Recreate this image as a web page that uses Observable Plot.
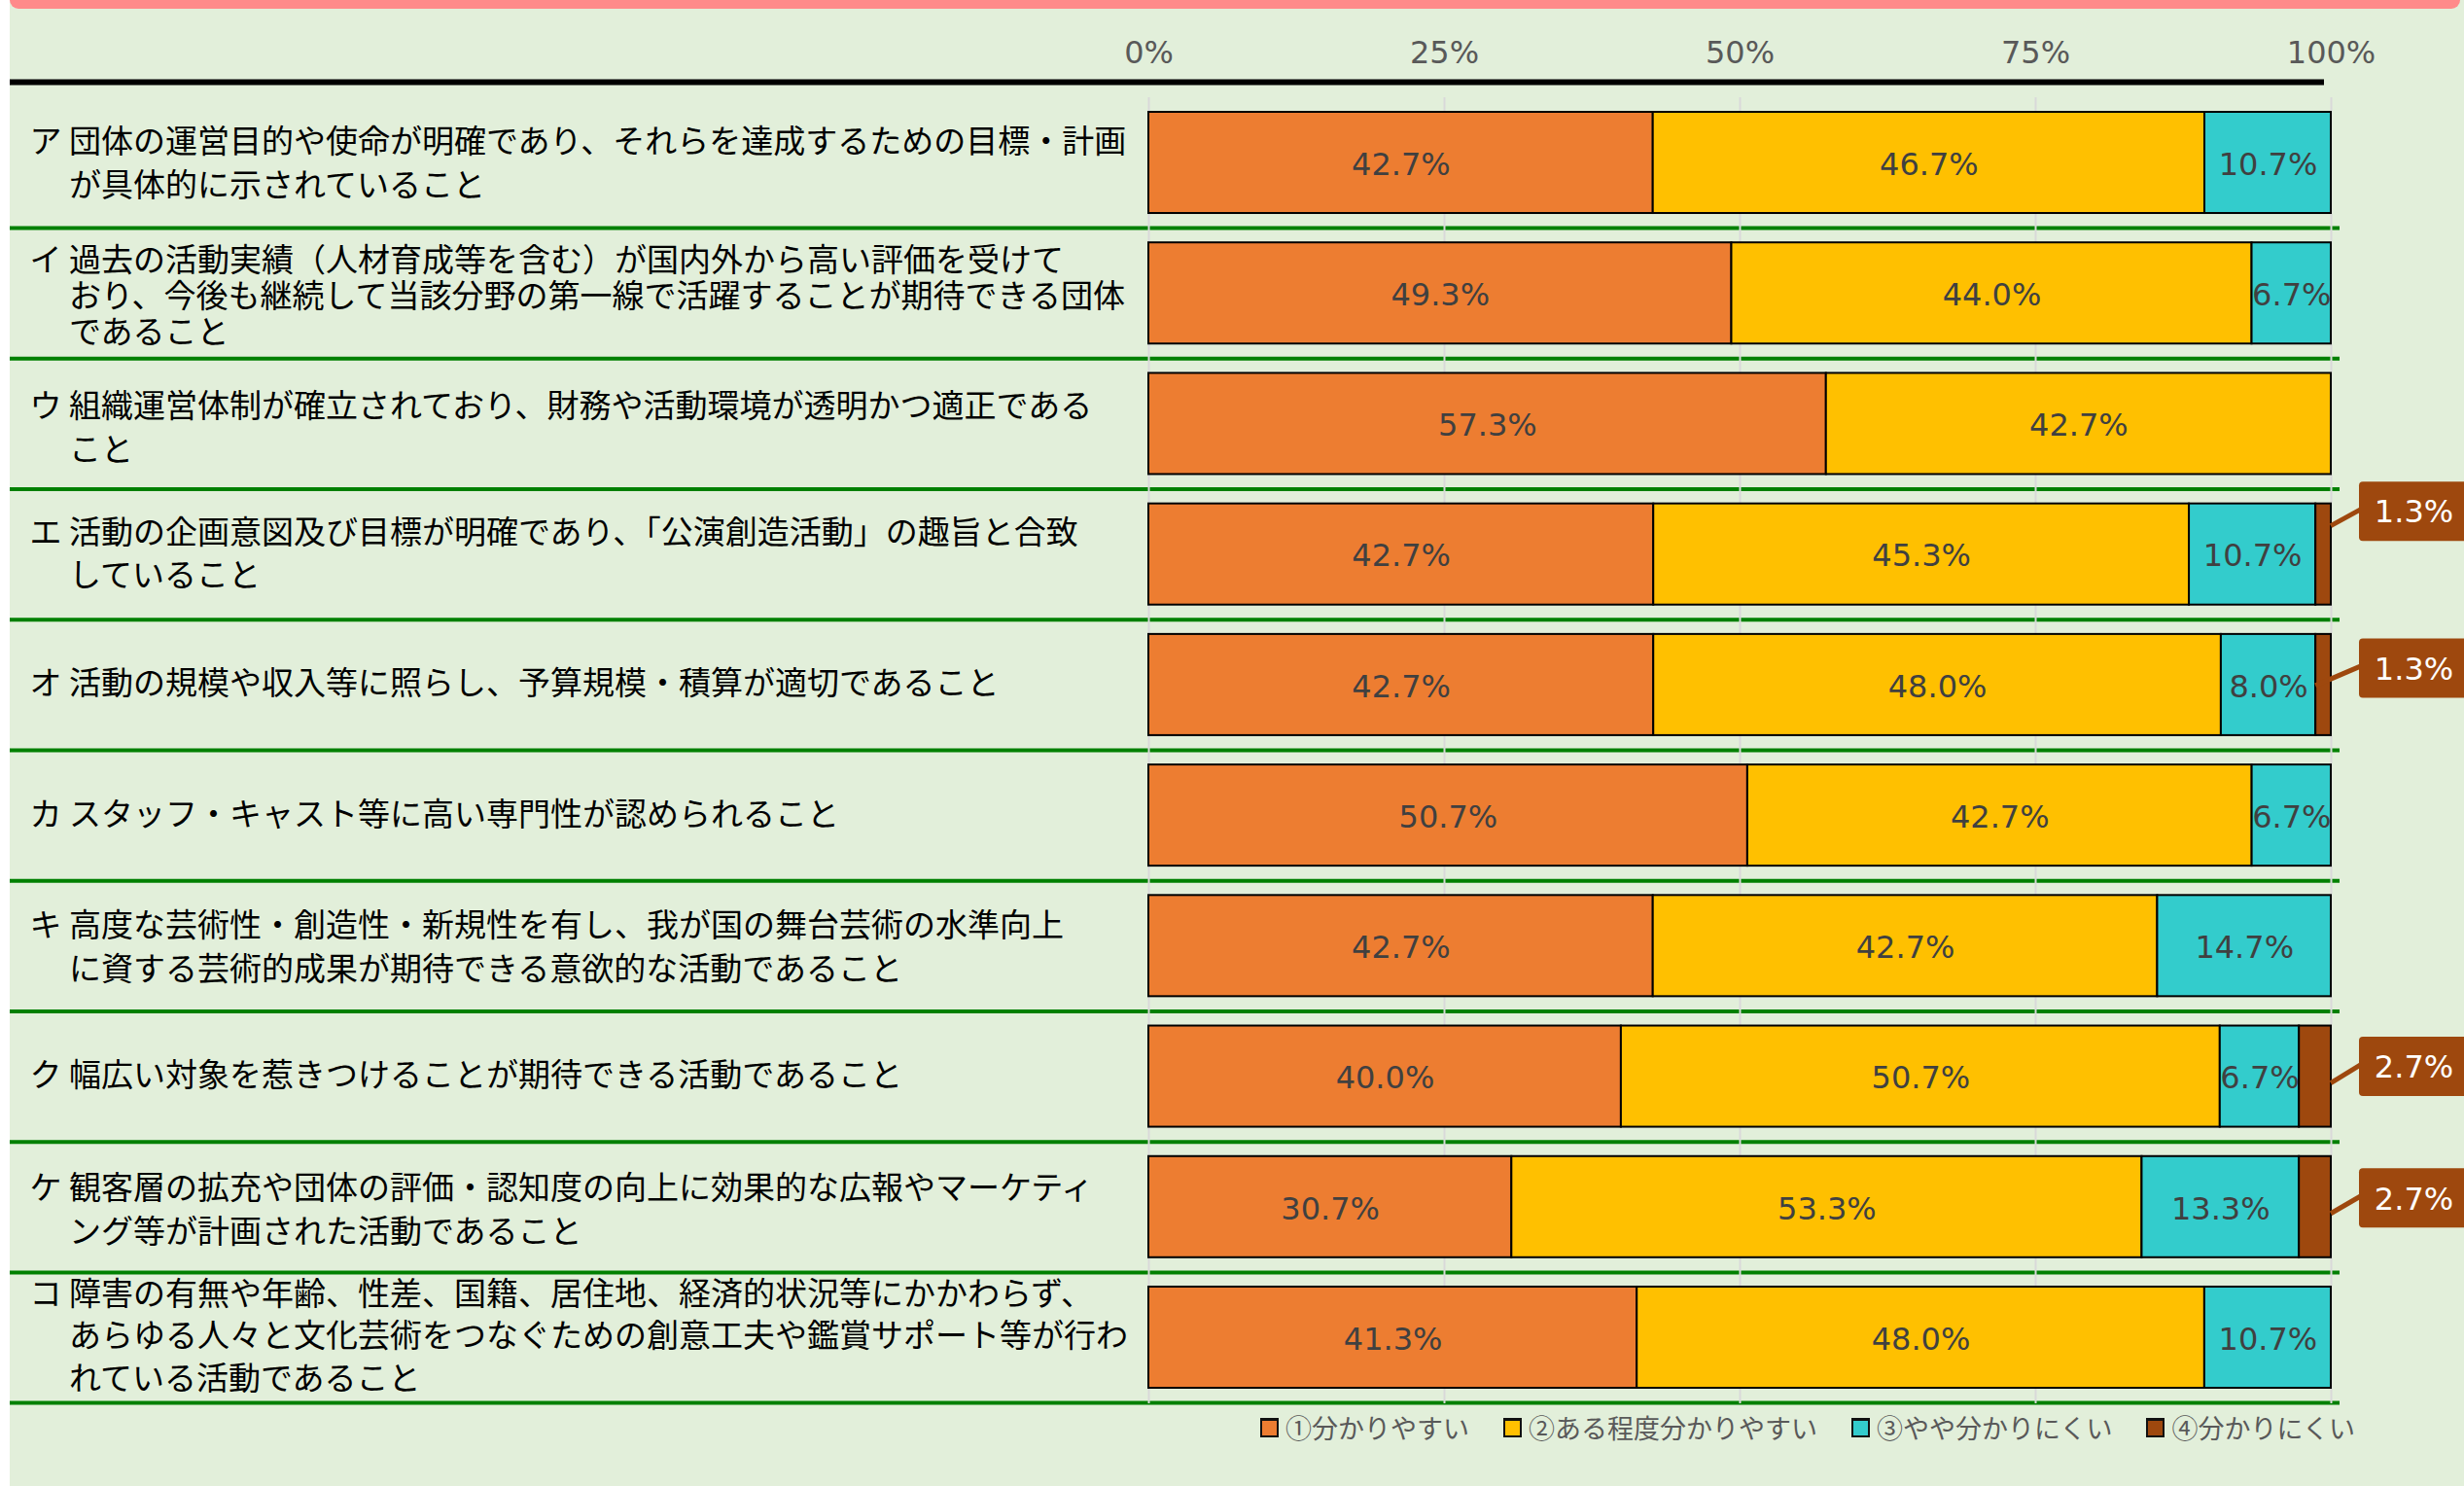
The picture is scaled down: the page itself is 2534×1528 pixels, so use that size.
<!DOCTYPE html>
<html><head><meta charset="utf-8">
<script src="https://cdn.jsdelivr.net/npm/d3@7"></script>
<script src="https://cdn.jsdelivr.net/npm/@observablehq/plot@0.6"></script>
<style>
html,body{margin:0;padding:0;background:#fff;}
#page{position:relative;width:2534px;height:1528px;overflow:hidden;}
#bg{position:absolute;left:10px;top:0;right:0;bottom:0;background:#E2EFDA;}
#band{position:absolute;left:10px;top:0;width:2520px;height:9px;background:#FF8A8A;border-radius:0 0 9px 9px;}
#chart{position:relative;}
#legend{position:relative;display:flex;align-items:center;padding-left:1296px;margin-top:4px;font-family:"Noto Sans CJK JP",sans-serif;font-size:27px;line-height:27px;color:#595959;}
.item{display:flex;align-items:center;margin-right:35px;}
.sw{width:15px;height:15px;border:2px solid #111;border-top-width:3px;margin-right:7px;}
</style></head>
<body><div id="page"><div id="bg"></div><div id="band"></div><div id="chart"></div><div id="legend"></div></div>
<script>
// ---- data ----
const categories = ["ア","イ","ウ","エ","オ","カ","キ","ク","ケ","コ"];
const labelLines = [
  ["ア 団体の運営目的や使命が明確であり、それらを達成するための目標・計画", "が具体的に示されていること"],
  ["イ 過去の活動実績（人材育成等を含む）が国内外から高い評価を受けて", "おり、今後も継続して当該分野の第一線で活躍することが期待できる団体", "であること"],
  ["ウ 組織運営体制が確立されており、財務や活動環境が透明かつ適正である", "こと"],
  ["エ 活動の企画意図及び目標が明確であり、「公演創造活動」の趣旨と合致", "していること"],
  ["オ 活動の規模や収入等に照らし、予算規模・積算が適切であること"],
  ["カ スタッフ・キャスト等に高い専門性が認められること"],
  ["キ 高度な芸術性・創造性・新規性を有し、我が国の舞台芸術の水準向上", "に資する芸術的成果が期待できる意欲的な活動であること"],
  ["ク 幅広い対象を惹きつけることが期待できる活動であること"],
  ["ケ 観客層の拡充や団体の評価・認知度の向上に効果的な広報やマーケティ", "ング等が計画された活動であること"],
  ["コ 障害の有無や年齢、性差、国籍、居住地、経済的状況等にかかわらず、", "あらゆる人々と文化芸術をつなぐための創意工夫や鑑賞サポート等が行わ", "れている活動であること"]
];
const responses = ["①分かりやすい","②ある程度分かりやすい","③やや分かりにくい","④分かりにくい"];
const r1 = [42.7, 49.3, 57.3, 42.7, 42.7, 50.7, 42.7, 40.0, 30.7, 41.3];
const r2 = [46.7, 44.0, 42.7, 45.3, 48.0, 42.7, 42.7, 50.7, 53.3, 48.0];
const r3 = [10.7,  6.7,  0.0, 10.7,  8.0,  6.7, 14.7,  6.7, 13.3, 10.7];
const r4 = [ 0.0,  0.0,  0.0,  1.3,  1.3,  0.0,  0.0,  2.7,  2.7,  0.0];
const tickValues = [0, 0.25, 0.5, 0.75, 1];

// ---- styles ----
const colors = ["#ED7D31", "#FFC000", "#33CCCC", "#9E480E"];
const labelStyle = [
  {lh: 1.36, dy: -2}, {lh: 1.12, dy: 2}, {lh: 1.36, dy: 1}, {lh: 1.34, dy: -3}, {lh: 1, dy: -1},
  {lh: 1, dy: 0}, {lh: 1.34, dy: -1.5}, {lh: 1, dy: -1}, {lh: 1.34, dy: 0}, {lh: 1.32, dy: -4}
];
const calloutStyle = {"エ": {box: -44, start: -29}, "オ": {box: -17, start: 1, inner: true}, "ク": {box: -10, start: 7}, "ケ": {box: -9, start: 7}};

const series = [r1, r2, r3, r4];
const rows = [];
categories.forEach((c, i) => responses.forEach((r, j) => rows.push({cat: c, resp: r, value: series[j][i]})));

const W = 2534, H = 1450, mL = 1181, mR = 137, mT = 115, mB = 23, pad = 0.225;
const step = (H - mB - mT) / (categories.length - pad);
const fmt = v => v.toFixed(1) + "%";

const labelMarks = categories.map((c, i) => Plot.text([c], {
  y: d => d,
  text: () => labelLines[i].map((l, k) => k === 0 ? l : "\u3000 " + l).join("\n"),
  frameAnchor: "left", textAnchor: "start", lineAnchor: "middle",
  dx: -(mL - 30), dy: labelStyle[i].dy, lineHeight: labelStyle[i].lh,
  fontSize: 33, fontFamily: "Noto Sans CJK JP", fill: "#000"
}));

function calloutShapes(index, scales) {
  const g = d3.create("svg:g");
  const x = scales.x, y = scales.y, bw = y.bandwidth ? y.bandwidth() : 0;
  categories.forEach((c, i) => {
    const v = r4[i];
    if (!(v > 0)) return;
    const st = calloutStyle[c];
    const total = r1[i] + r2[i] + r3[i] + r4[i];
    const xEnd = x(1), xIn = x((total - v) / total);
    const cy = y(c) + bw / 2;
    const bx = xEnd + 29, bh = 61, by = cy + st.box - bh / 2;
    g.append("line")
      .attr("x1", st.inner ? xIn : xEnd).attr("y1", cy + st.start)
      .attr("x2", bx + 2).attr("y2", cy + st.box - 2)
      .attr("stroke", colors[3]).attr("stroke-width", 5);
    g.append("rect").attr("x", bx).attr("y", by).attr("width", 112).attr("height", bh)
      .attr("rx", 4).attr("fill", colors[3]);
  });
  return g.node();
}

const calloutTexts = categories.filter((c, i) => r4[i] > 0).map(c => {
  const i = categories.indexOf(c);
  return Plot.text([c], {x: () => 1, y: d => d, text: () => fmt(r4[i]), dx: 85, dy: calloutStyle[c].box + 1,
    fill: "#fff", fontSize: 32, fontFamily: "DejaVu Sans"});
});

const chart = Plot.plot({
  width: W, height: H,
  marginLeft: mL, marginRight: mR, marginTop: mT, marginBottom: mB,
  style: {background: "transparent", fontFamily: "DejaVu Sans", overflow: "visible"},
  x: {domain: [0, 1], label: null},
  y: {domain: categories, paddingInner: pad, paddingOuter: 0, round: false, axis: null},
  color: {domain: responses, range: colors},
  marks: [
    Plot.ruleY(categories, {y: d => d, dy: step / 2, stroke: "#008000", strokeWidth: 4, insetLeft: -(mL - 10), insetRight: -9}),
    Plot.ruleY([categories[0]], {y: d => d, dy: -83, stroke: "#000", strokeWidth: 6, insetLeft: -(mL - 10), insetRight: 7}),
    Plot.ruleX(tickValues, {x: d => d, stroke: "#D9D9D9", strokeWidth: 2, insetTop: -15, insetBottom: -16}),
    Plot.axisX({anchor: "top", label: null, ticks: tickValues, tickFormat: d3.format(".0%"), tickSize: 0, tickPadding: 51, fontSize: 32, color: "#595959"}),
    Plot.barX(rows.filter(d => d.value > 0), Plot.stackX({x: "value", y: "cat", fill: "resp", offset: "normalize", stroke: "#000", strokeWidth: 2})),
    Plot.text(rows, Plot.stackX({x: "value", y: "cat", z: "resp", offset: "normalize",
      text: d => (d.value > 0 && d.resp !== responses[3]) ? fmt(d.value) : null,
      fill: "#404040", fontSize: 32, dy: 2})),
    ...labelMarks,
    calloutShapes,
    ...calloutTexts
  ]
});
document.getElementById("chart").appendChild(chart);

// legend
const leg = document.getElementById("legend");
responses.forEach((r, j) => {
  const it = document.createElement("div"); it.className = "item";
  const sw = document.createElement("div"); sw.className = "sw"; sw.style.background = colors[j];
  const tx = document.createElement("span"); tx.textContent = r;
  it.appendChild(sw); it.appendChild(tx); leg.appendChild(it);
});
</script>
</body></html>
